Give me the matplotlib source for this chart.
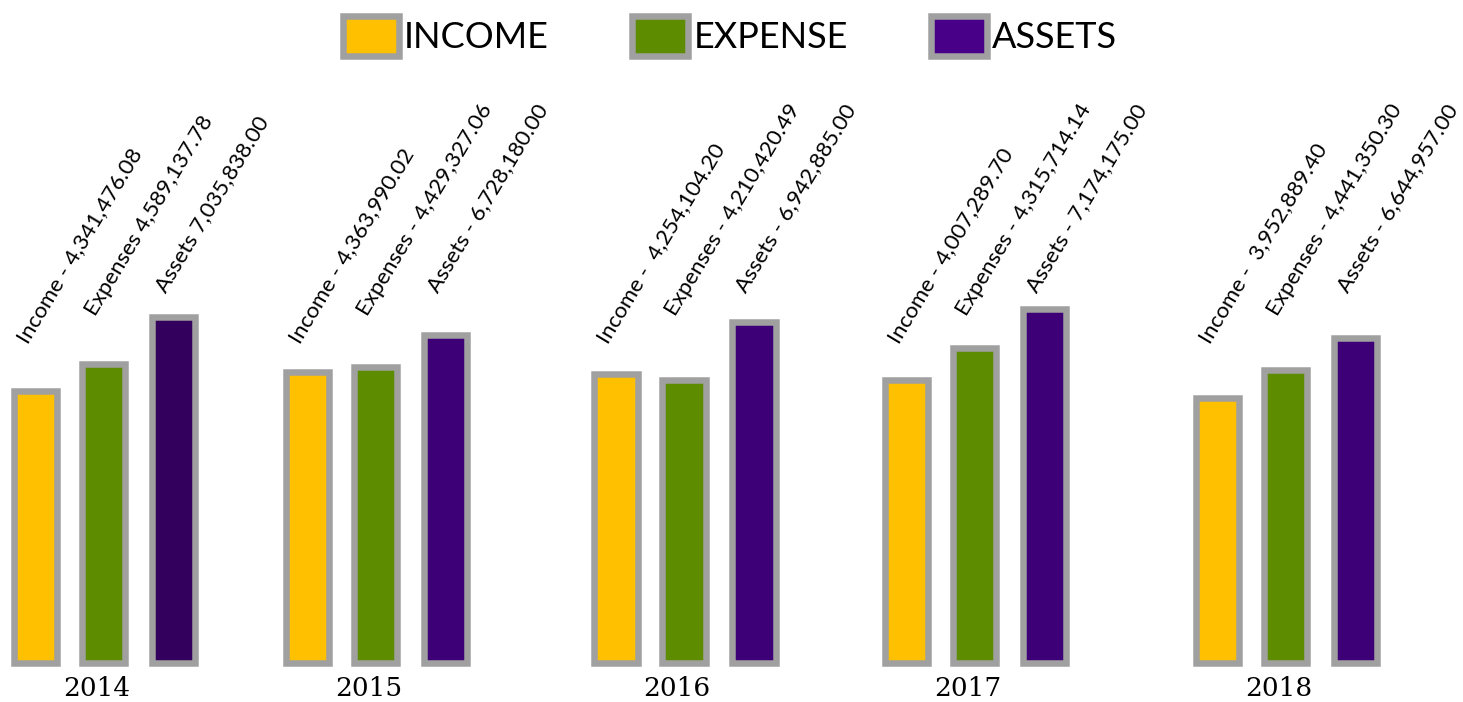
import matplotlib
matplotlib.use("Agg")
import matplotlib.pyplot as plt
from matplotlib.patches import Patch

years = ['2014', '2015', '2016', '2017', '2018']
income = [4341476.08, 4363990.02, 4254104.20, 4007289.70, 3952889.40]
expenses = [4589137.78, 4429327.06, 4210420.49, 4315714.14, 4441350.30]
assets = [7035838.00, 6728180.00, 6942885.00, 7174175.00, 6644957.00]

# label prefixes as written on the chart (2014 lacks the dash)
inc_prefix = ['Income - ', 'Income - ', 'Income -  ', 'Income - ', 'Income -  ']
exp_prefix = ['Expenses ', 'Expenses - ', 'Expenses - ', 'Expenses - ', 'Expenses - ']
ast_prefix = ['Assets ', 'Assets - ', 'Assets - ', 'Assets - ', 'Assets - ']

# drawn bar heights (the bars are not to scale with the values)
inc_h = [278, 297, 295, 289, 271]
exp_h = [305, 302, 289, 321, 299]
ast_h = [352, 334, 347, 360, 331]

c_inc = '#FFC000'
c_exp = '#5E8C00'
c_ast = ['#33005E', '#3E0076', '#3E0076', '#3E0076', '#3E0076']
c_leg_ast = '#480088'
gray = '#A0A0A0'

group_x = [103.5, 375.5, 684, 974.5, 1285.5]
offsets = [-68, 0, 70]
bw = 50
t = 6.5            # border thickness in px
lw = t * 72 / 100

fig = plt.figure(figsize=(14.63, 7.02), dpi=100)
ax = fig.add_axes([0, 0, 1, 1])
ax.set_xlim(0, 1463)
ax.set_ylim(-36, 666)
ax.axis('off')

lab_font = dict(family=['Lato', 'DejaVu Sans'], fontsize=16, rotation=59,
                rotation_mode='anchor', ha='left', va='baseline')
lab_y = [321, 349, 372]

for i in range(len(years)):
    xs = [group_x[i] + o for o in offsets]
    hs = [inc_h[i], exp_h[i], ast_h[i]]
    cols = [c_inc, c_exp, c_ast[i]]
    ax.bar(xs, [h - t for h in hs], bottom=t / 2, width=bw - t, color=cols,
           edgecolor=gray, linewidth=lw, joinstyle='miter')
    texts = [inc_prefix[i] + f'{income[i]:,.2f}',
             exp_prefix[i] + f'{expenses[i]:,.2f}',
             ast_prefix[i] + f'{assets[i]:,.2f}']
    for x, y, s in zip(xs, lab_y, texts):
        ax.text(x - 8, y, s, **lab_font)
    ax.text(group_x[i] - 7, -22, years[i], family='DejaVu Serif', fontsize=19,
            ha='center', va='center')

handles = [Patch(facecolor=c_inc, edgecolor=gray, linewidth=lw, label='INCOME'),
           Patch(facecolor=c_exp, edgecolor=gray, linewidth=lw, label='EXPENSE'),
           Patch(facecolor=c_leg_ast, edgecolor=gray, linewidth=lw, label='ASSETS')]
fig.legend(handles=handles, loc='upper center', bbox_to_anchor=(0.499, 0.983), ncol=3,
           frameon=False, prop={'family': ['Lato', 'DejaVu Sans'], 'size': 26},
           borderaxespad=0, borderpad=0.1,
           handlelength=1.55, handleheight=1.35, handletextpad=0.15, columnspacing=2.3)

fig.savefig('out.png', dpi=100)
